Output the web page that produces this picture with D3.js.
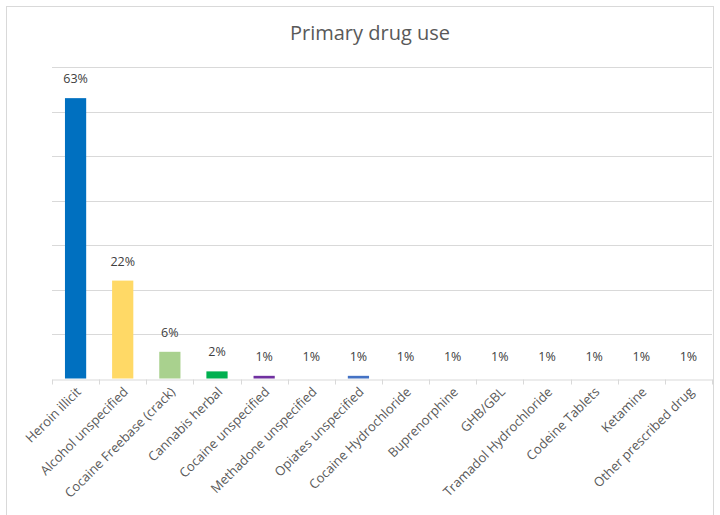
<!DOCTYPE html>
<html>
<head>
<meta charset="utf-8">
<script src="https://cdn.jsdelivr.net/npm/d3@7"></script>
<style>
  body { margin: 0; background: #fff; }
  text { font-family: "Open Sans", "Noto Sans", sans-serif; }
</style>
</head>
<body>
<div id="chart"></div>
<script>
// data
var categories = ["Heroin illicit", "Alcohol unspecified", "Cocaine Freebase (crack)", "Cannabis herbal",
    "Cocaine unspecified", "Methadone unspecified", "Opiates unspecified", "Cocaine Hydrochloride",
    "Buprenorphine", "GHB/GBL", "Tramadol Hydrochloride", "Codeine Tablets", "Ketamine", "Other prescribed drug"];
var values = [63, 22, 6, 1.6, 0.6, 0.5, 0.6, 0.5, 0.5, 0.5, 0.5, 0.5, 0.5, 0.5];
var yTicks = [0, 10, 20, 30, 40, 50, 60, 70];

var colors = ["#0070c0", "#ffd966", "#a9d18e", "#00b050", "#7030a0", "#ffffff", "#4472c4",
    "#ffffff", "#ffffff", "#ffffff", "#ffffff", "#ffffff", "#ffffff", "#ffffff"];

var width = 720, height = 515;
var margin = {t: 67, r: 10, b: 137, l: 52};

var svg = d3.select("#chart").append("svg")
    .attr("width", width)
    .attr("height", height);

// chart border
svg.append("rect")
    .attr("x", 6.5).attr("y", 6.5)
    .attr("width", 707).attr("height", 540)
    .attr("fill", "none")
    .attr("stroke", "#d9d9d9");

svg.append("text")
    .attr("x", 370)
    .attr("y", 40)
    .attr("text-anchor", "middle")
    .attr("font-size", "20px")
    .attr("fill", "#595959")
    .text("Primary drug use");

var x = d3.scaleBand()
    .domain(categories)
    .range([margin.l, width - margin.r + 2])
    .paddingInner(0.55)
    .paddingOuter(0.275);

var y = d3.scaleLinear()
    .domain([0, 70])
    .range([height - margin.b + 0.5, margin.t]);

//gridlines
svg.append("g")
    .selectAll("line")
    .data(yTicks.slice(1))
    .enter().append("line")
    .attr("x1", margin.l).attr("x2", width - margin.r + 2)
    .attr("y1", function(d) { return Math.round(y(d)) + 0.5; })
    .attr("y2", function(d) { return Math.round(y(d)) + 0.5; })
    .attr("stroke", "#d9d9d9");

//x axis
var xAxis = svg.append("g")
    .attr("transform", "translate(0," + (Math.round(y(0)) + 0.5) + ")")
    .call(d3.axisBottom(x).tickSize(0).tickPadding(0));

xAxis.select(".domain").attr("stroke", "#d9d9d9");

// tick marks sit between categories
var step = x.step();
xAxis.selectAll(".sep")
    .data(d3.range(categories.length + 1))
    .enter().append("line")
    .attr("class", "sep")
    .attr("x1", function(i) { return Math.round(margin.l + i * step) + 0.5; })
    .attr("x2", function(i) { return Math.round(margin.l + i * step) + 0.5; })
    .attr("y1", 0).attr("y2", 5)
    .attr("stroke", "#d9d9d9");

xAxis.selectAll(".tick text")
    .attr("font-size", "13px")
    .attr("fill", "#595959")
    .attr("text-anchor", "end")
    .attr("dy", "0.35em")
    .attr("transform", "translate(3,10) rotate(-45)");

//bars
svg.append("g")
    .selectAll("rect")
    .data(values)
    .enter().append("rect")
    .attr("x", function(d, i) { return x(categories[i]); })
    .attr("y", function(d) { return y(d); })
    .attr("width", x.bandwidth())
    .attr("height", function(d) { return y(0) - y(d); })
    .attr("fill", function(d, i) { return colors[i]; });

//bar labels
svg.append("g")
    .selectAll("text")
    .data(values)
    .enter().append("text")
    .attr("x", function(d, i) { return x(categories[i]) + x.bandwidth() / 2; })
    .attr("y", function(d) { return y(d) - 15; })
    .attr("text-anchor", "middle")
    .attr("font-size", "12.5px")
    .attr("fill", "#404040")
    .text(function(d) { return Math.round(d) + "%"; });
</script>
</body>
</html>
